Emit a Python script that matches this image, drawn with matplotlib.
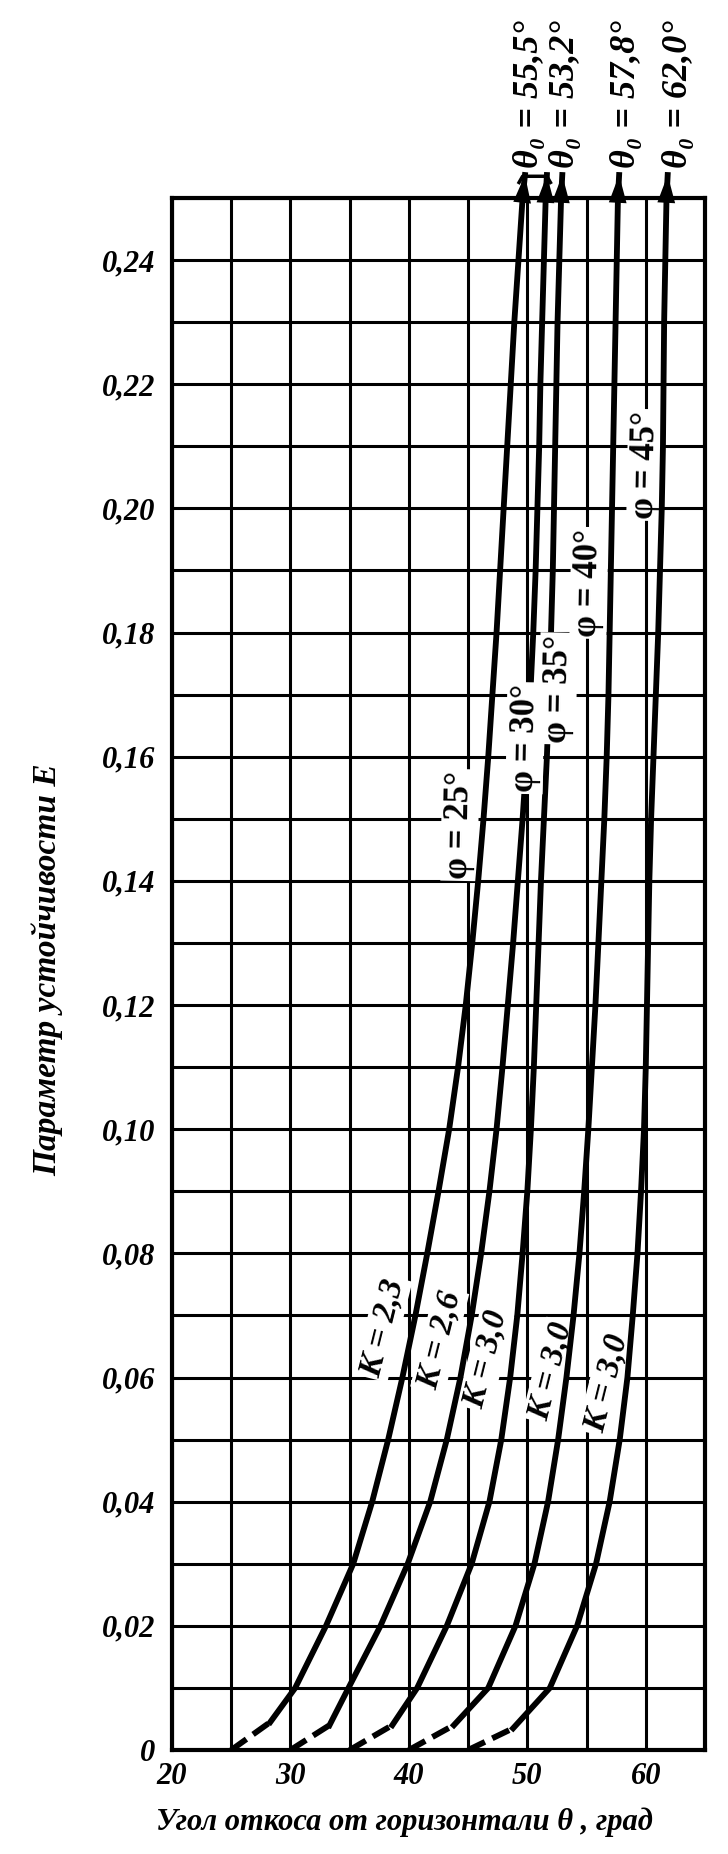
import numpy as np
import matplotlib
matplotlib.use("Agg")
import matplotlib.pyplot as plt

plt.rcParams['font.family'] = ['Liberation Serif', 'DejaVu Serif']

# stability parameter E at which the curves were read
E_levels = [0.01, 0.02, 0.03, 0.04, 0.05, 0.06, 0.07, 0.08, 0.09, 0.10,
            0.11, 0.12, 0.13, 0.14, 0.15, 0.16, 0.17, 0.18, 0.19, 0.20,
            0.21, 0.22, 0.23, 0.24, 0.25]
E_tip = 0.2537

# slope angle theta (deg) for each curve
theta_phi25 = [30.4, 33.0, 35.3, 36.9, 38.25, 39.45, 40.55, 41.55, 42.5, 43.4,
               44.15, 44.8, 45.35, 45.85, 46.3, 46.7, 47.05, 47.4, 47.7, 48.0,
               48.3, 48.6, 48.9, 49.25, 49.6]
theta_phi30 = [34.9, 37.6, 39.9, 41.8, 43.2, 44.35, 45.3, 46.1, 46.8, 47.4,
               47.9, 48.35, 48.8, 49.2, 49.6, 49.95, 50.25, 50.5, 50.7, 50.85,
               51.0, 51.1, 51.25, 51.4, 51.55]
theta_phi35 = [40.7, 43.2, 45.3, 46.8, 47.8, 48.55, 49.15, 49.6, 50.0, 50.3,
               50.55, 50.75, 50.95, 51.15, 51.4, 51.65, 51.85, 52.0, 52.15, 52.25,
               52.35, 52.45, 52.55, 52.7, 52.85]
theta_phi40 = [46.7, 49.0, 50.6, 51.75, 52.6, 53.3, 53.9, 54.4, 54.8, 55.15,
               55.45, 55.75, 56.0, 56.25, 56.5, 56.7, 56.85, 56.95, 57.05, 57.15,
               57.25, 57.35, 57.45, 57.55, 57.65]
theta_phi45 = [51.9, 54.2, 55.8, 56.95, 57.8, 58.45, 58.9, 59.3, 59.6, 59.85,
               60.0, 60.1, 60.2, 60.3, 60.45, 60.65, 60.85, 61.05, 61.2, 61.35,
               61.45, 61.5, 61.55, 61.65, 61.75]
curves = [theta_phi25, theta_phi30, theta_phi35, theta_phi40, theta_phi45]

theta_start = [25, 30, 35, 40, 45]          # E = 0
dash_end_theta = [28.3, 33.3, 38.6, 43.8, 48.8]
dash_end_E = [0.0045, 0.004, 0.004, 0.004, 0.0035]
theta_tip = [49.8, 51.65, 52.95, 57.75, 61.85]

phi_labels = ["φ = 25°", "φ = 30°", "φ = 35°", "φ = 40°", "φ = 45°"]
K_labels = ["K = 2,3", "K = 2,6", "K = 3,0", "K = 3,0", "K = 3,0"]
theta0_labels = ["θ₀ = 55,5°", "θ₀ = 53,2°", "θ₀ = 57,8°", "θ₀ = 62,0°"]

x_ticks = [20, 25, 30, 35, 40, 45, 50, 55, 60, 65]
x_ticklabels = ['20', '', '30', '', '40', '', '50', '', '60', '']
y_ticks = [round(0.01 * i, 2) for i in range(26)]
y_ticklabels = ['0' if v == 0 else (f"{v:.2f}".replace('.', ',') if i % 2 == 0 else '')
                for i, v in enumerate(y_ticks)]

# label placement (style only); phi 30/35 labels break their own curves
phi_pos = [(44.3, 0.149), (49.8, 0.163), (52.6, 0.171), (55.2, 0.188), (60.0, 0.207)]
phi_z = [2.2, 5, 5, 2.2, 2.2]
K_pos = [(37.8, 0.068), (42.6, 0.066), (46.5, 0.063), (52.0, 0.061), (56.7, 0.059)]
theta0_x = [50.2, 53.2, 58.4, 62.8]

FS = 22
txt = dict(fontsize=FS, fontweight='bold', fontstyle='italic')
white = dict(facecolor='white', edgecolor='none', pad=1.5)

fig = plt.figure(figsize=(7.28, 18.54), dpi=100)
ax = fig.add_axes([0.2363, 0.0561, 0.7321, 0.8371])

ax.set_xlim(20, 65)
ax.set_ylim(0, 0.25)
ax.set_xticks(x_ticks)
ax.set_xticklabels(x_ticklabels, **txt)
ax.set_yticks(y_ticks)
ax.set_yticklabels(y_ticklabels, **txt)
ax.tick_params(length=0)
ax.tick_params(axis='y', pad=12)
ax.tick_params(axis='x', pad=9)
ax.set_axisbelow(True)
ax.grid(True, color='black', lw=2.2)
for s in ax.spines.values():
    s.set_linewidth(3)

for i, th in enumerate(curves):
    ax.plot([theta_start[i], dash_end_theta[i]], [0, dash_end_E[i]],
            color='black', lw=4.2, dashes=(3.2, 1.4), solid_capstyle='butt', zorder=2.5)
    xs = [dash_end_theta[i]] + th + [theta_tip[i]]
    ys = [dash_end_E[i]] + E_levels + [E_tip]
    ax.plot(xs, ys, color='black', lw=4.2, zorder=2.5, clip_on=False,
            solid_joinstyle='round')
    ax.annotate('', xy=(theta_tip[i], E_tip), xytext=(th[-1], E_levels[-1]),
                annotation_clip=False,
                arrowprops=dict(arrowstyle='-|>,head_length=1.0,head_width=0.32',
                                mutation_scale=20, color='black', lw=0,
                                shrinkA=0, shrinkB=0), zorder=4)

# bracket joining the first two arrows
ax.plot([theta_tip[0] - 0.5, theta_tip[0] - 0.2, theta_tip[1] + 0.0, theta_tip[1] + 0.3],
        [E_tip - 0.0012, E_tip - 0.0002, E_tip - 0.0002, E_tip - 0.0012],
        color='black', lw=2.5, clip_on=False)

for lab, (x, y), z in zip(phi_labels, phi_pos, phi_z):
    ax.text(x, y, lab, rotation=89, ha='center', va='center', bbox=white,
            zorder=z, fontsize=25, fontweight='bold')

for lab, (x, y) in zip(K_labels, K_pos):
    ax.text(x, y, lab, rotation=76, ha='center', va='center', bbox=white,
            zorder=2.2, fontsize=24, fontweight='bold', fontstyle='italic')

for lab, x in zip(theta0_labels, theta0_x):
    ax.text(x, 0.2548, lab, rotation=90, ha='center', va='bottom',
            clip_on=False, fontsize=26, fontweight='bold', fontstyle='italic')

ax.set_xlabel('Угол откоса от горизонтали θ , град', **txt)
ax.xaxis.set_label_coords(0.437, -0.037)
ax.set_ylabel('Параметр устойчивости E', fontsize=24, fontweight='bold',
              fontstyle='italic', va='center')
ax.yaxis.set_label_coords(-0.2345, 0.503)

fig.savefig('out.png', dpi=100)
